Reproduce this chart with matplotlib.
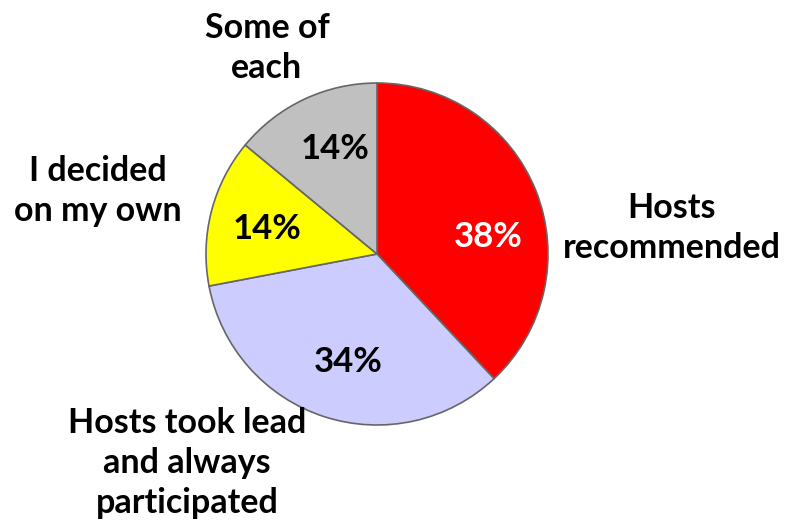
import matplotlib.pyplot as plt

# Slice data (clockwise from 12 o'clock)
categories = ["Hosts\nrecommended", "Hosts took lead\nand always\nparticipated",
              "I decided\non my own", "Some of\neach"]
shares = [38, 34, 14, 14]
colors = ["#FF0000", "#CCCCFF", "#FFFF00", "#C0C0C0"]
pct_colors = ["white", "black", "black", "black"]

# Layout in pixel coordinates (y up)
W, H = 798, 530
center = (377, 276)
radius = 171
label_pos = [(672, 302), (187, 67), (98, 339), (267, 482)]
pct_pos = [(488, 293), (348, 168), (267, 301), (335, 381)]

plt.rcParams['font.family'] = ['Lato', 'DejaVu Sans']

fig = plt.figure(figsize=(W / 100, H / 100), dpi=100)
ax = fig.add_axes([0, 0, 1, 1])

wedges, texts, autotexts = ax.pie(
    shares, labels=categories, colors=colors, startangle=90, counterclock=False,
    center=center, radius=radius, frame=True, autopct='%d%%',
    wedgeprops=dict(edgecolor='#666666', linewidth=1.2),
    textprops=dict(fontsize=24.5, fontweight='bold'))
ax.set_xlim(0, W)
ax.set_ylim(0, H)
ax.set_aspect('equal')
ax.axis('off')

for t, pos in zip(texts, label_pos):
    t.set_position(pos)
    t.set_ha('center')
    t.set_va('center')
    t.set_multialignment('center')
    t.set_linespacing(1.31)

for t, pos, c in zip(autotexts, pct_pos, pct_colors):
    t.set_position(pos)
    t.set_color(c)
    t.set_fontsize(25)
    t.set_ha('center')
    t.set_va('center')

plt.savefig("out.png", dpi=100)
